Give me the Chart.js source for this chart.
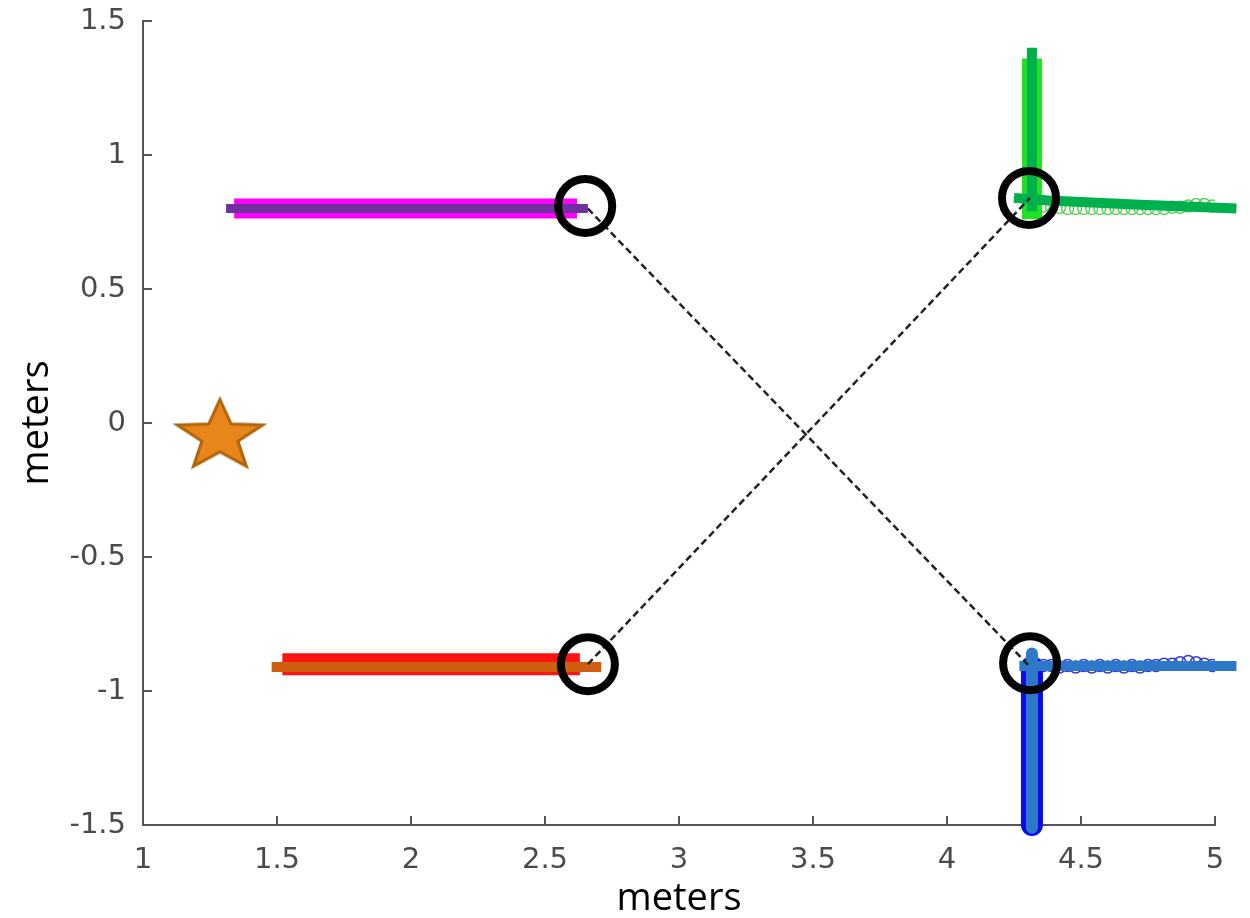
<!DOCTYPE html>
<html>
<head>
<meta charset="utf-8">
<script src="https://cdn.jsdelivr.net/npm/chart.js@4/dist/chart.umd.min.js"></script>
<style>
  html,body{margin:0;padding:0;background:#fff;}
  #c{display:block;}
</style>
</head>
<body>
<canvas id="c" width="1250" height="918"></canvas>
<script>
// axis ticks
const xTicks = [1, 1.5, 2, 2.5, 3, 3.5, 4, 4.5, 5];
const xTickLabels = ["1", "1.5", "2", "2.5", "3", "3.5", "4", "4.5", "5"];
const yTicks = [-1.5, -1, -0.5, 0, 0.5, 1, 1.5];
const yTickLabels = ["-1.5", "-1", "-0.5", "0", "0.5", "1", "1.5"];

// tracks (meters)
const magentaX = [1.34, 2.62];
const magentaY = [0.80, 0.80];
const purpleX = [1.31, 2.66];
const purpleY = [0.80, 0.80];
const redX = [1.52, 2.63];
const redY = [-0.90, -0.90];
const orangeX = [1.48, 2.71];
const orangeY = [-0.91, -0.91];

const greenVertX = [4.317, 4.317];
const greenVertY = [0.76, 1.36];
const darkGreenVertX = [4.317, 4.317];
const darkGreenVertY = [0.79, 1.40];
const darkGreenHorX = [4.25, 4.38, 4.70, 5.08];
const darkGreenHorY = [0.84, 0.83, 0.815, 0.80];
const greenDotsX = [4.36, 4.39, 4.42, 4.45, 4.48, 4.51, 4.54, 4.57, 4.60, 4.63, 4.66, 4.69, 4.72, 4.75, 4.78, 4.81, 4.84, 4.87, 4.90, 4.93, 4.96, 4.99];
const greenDotsY = [0.81, 0.805, 0.805, 0.80, 0.80, 0.80, 0.80, 0.80, 0.80, 0.80, 0.80, 0.80, 0.80, 0.80, 0.80, 0.80, 0.805, 0.805, 0.81, 0.815, 0.815, 0.81];

const blueVertX = [4.317, 4.317];
const blueVertY = [-0.91, -1.50];
const steelVertX = [4.317, 4.317];
const steelVertY = [-0.86, -1.51];
const steelHorX = [4.27, 5.08];
const steelHorY = [-0.907, -0.907];
const blueDotsX = [4.36, 4.39, 4.42, 4.45, 4.48, 4.51, 4.54, 4.57, 4.60, 4.63, 4.66, 4.69, 4.72, 4.75, 4.78, 4.81, 4.84, 4.87, 4.90, 4.93, 4.96, 4.99];
const blueDotsY = [-0.905, -0.905, -0.91, -0.905, -0.91, -0.905, -0.91, -0.905, -0.91, -0.905, -0.91, -0.905, -0.91, -0.905, -0.905, -0.90, -0.90, -0.895, -0.89, -0.895, -0.90, -0.905];

// start / end markers
const circlesX = [2.65, 2.66, 4.306, 4.31];
const circlesY = [0.81, -0.90, 0.84, -0.896];
const dashAX = [2.66, 4.31];
const dashAY = [0.80, -0.91];
const dashBX = [2.66, 4.31];
const dashBY = [-0.90, 0.84];
const starX = [1.287];
const starY = [-0.05];

function pts(xs, ys) { return xs.map((x, i) => ({x: x, y: ys[i]})); }

function track(xs, ys, color, width, extra) {
  return Object.assign({
    data: pts(xs, ys), showLine: true, borderColor: color, borderWidth: width,
    pointRadius: 0, borderCapStyle: 'butt', fill: false
  }, extra || {});
}

function dots(xs, ys, color) {
  return {
    data: pts(xs, ys), showLine: false, pointStyle: 'circle', pointRadius: 6,
    pointBorderWidth: 1.5, pointBorderColor: color, pointBackgroundColor: 'rgba(0,0,0,0)'
  };
}

// filled star marker
function makeStar() {
  const c = document.createElement('canvas');
  c.width = 100; c.height = 100;
  const g = c.getContext('2d');
  const rx = 45, ry = 37, inner = 0.42;
  g.beginPath();
  for (let i = 0; i < 10; i++) {
    const a = -Math.PI / 2 + i * Math.PI / 5;
    const r = i % 2 ? inner : 1;
    const px = 50 + rx * r * Math.cos(a), py = 50 + ry * r * Math.sin(a);
    i ? g.lineTo(px, py) : g.moveTo(px, py);
  }
  g.closePath();
  g.fillStyle = '#e8861c';
  g.fill();
  g.lineWidth = 3;
  g.strokeStyle = '#b0640c';
  g.stroke();
  return c;
}

const inwardTicks = {
  id: 'inwardTicks',
  beforeDatasetsDraw(chart) {
    const {ctx, chartArea: a, scales: {x, y}} = chart;
    ctx.save();
    ctx.strokeStyle = '#555';
    ctx.lineWidth = 2;
    ctx.beginPath();
    xTicks.forEach(v => { const p = Math.round(x.getPixelForValue(v)); ctx.moveTo(p, a.bottom); ctx.lineTo(p, a.bottom - 9); });
    yTicks.forEach(v => { const p = Math.round(y.getPixelForValue(v)); ctx.moveTo(a.left, p); ctx.lineTo(a.left + 9, p); });
    ctx.stroke();
    ctx.restore();
  }
};

const tickFont = {family: 'DejaVu Sans', size: 29};
const titleFont = {family: 'Open Sans', size: 38};

new Chart(document.getElementById('c'), {
  type: 'scatter',
  data: {
    datasets: [
      track(dashAX, dashAY, '#222', 2.5, {borderDash: [7, 4], order: 2}),
      track(dashBX, dashBY, '#222', 2.5, {borderDash: [7, 4], order: 2}),
      Object.assign(dots(greenDotsX, greenDotsY, '#5ad25a'), {order: 9}),
      Object.assign(dots(blueDotsX, blueDotsY, '#3a3ad6'), {order: 9}),
      track(magentaX, magentaY, '#ff00ff', 20, {order: 8}),
      track(purpleX, purpleY, '#7030a0', 9, {order: 7}),
      track(redX, redY, '#ff1414', 22, {order: 8}),
      track(orangeX, orangeY, '#cf5e10', 10, {order: 7}),
      track(greenVertX, greenVertY, '#22e022', 20, {order: 8}),
      track(darkGreenVertX, darkGreenVertY, '#00b04c', 10, {order: 7}),
      track(darkGreenHorX, darkGreenHorY, '#00b04c', 10, {order: 6, clip: false}),
      track(blueVertX, blueVertY, '#0a0af0', 22, {order: 8, clip: false, borderCapStyle: 'round'}),
      track(steelVertX, steelVertY, '#2e78c8', 12, {order: 7, clip: false, borderCapStyle: 'round'}),
      track(steelHorX, steelHorY, '#2e78c8', 10, {order: 6, clip: false}),
      {
        data: pts(circlesX, circlesY), showLine: false, pointStyle: 'circle', pointRadius: 27,
        pointBorderWidth: 8, pointBorderColor: '#000', pointBackgroundColor: 'rgba(0,0,0,0)', order: 1, clip: false
      },
      {
        data: pts(starX, starY), showLine: false, pointStyle: makeStar(), pointRadius: 40, order: 1
      }
    ]
  },
  options: {
    responsive: false,
    animation: false,
    events: [],
    layout: {autoPadding: false, padding: {top: 21, right: 35, left: 0, bottom: 0}},
    plugins: {legend: {display: false}, tooltip: {enabled: false}},
    scales: {
      x: {
        type: 'linear', min: 1, max: 5,
        afterBuildTicks: s => { s.ticks = xTicks.map(v => ({value: v})); },
        afterFit: s => { s.height = 93; s.paddingLeft = 0; s.paddingRight = 0; },
        ticks: {
          callback: (v, i) => xTickLabels[i], color: '#4a4a4a', font: tickFont, padding: 18, maxRotation: 0
        },
        grid: {display: true, drawOnChartArea: false, drawTicks: false},
        border: {display: true, color: '#555', width: 2},
        title: {display: true, text: 'meters', color: '#000', font: titleFont, padding: {top: 0, bottom: -4}}
      },
      y: {
        type: 'linear', min: -1.5, max: 1.5,
        afterBuildTicks: s => { s.ticks = yTicks.map(v => ({value: v})); },
        afterFit: s => { s.width = 143; s.paddingTop = 0; s.paddingBottom = 0; },
        ticks: {
          callback: (v, i) => yTickLabels[i], color: '#4a4a4a', font: tickFont, padding: 17
        },
        grid: {display: true, drawOnChartArea: false, drawTicks: false},
        border: {display: true, color: '#555', width: 2},
        title: {display: true, text: 'meters', color: '#000', font: titleFont, padding: {top: 14, bottom: 0}}
      }
    }
  },
  plugins: [inwardTicks]
});
</script>
</body>
</html>
